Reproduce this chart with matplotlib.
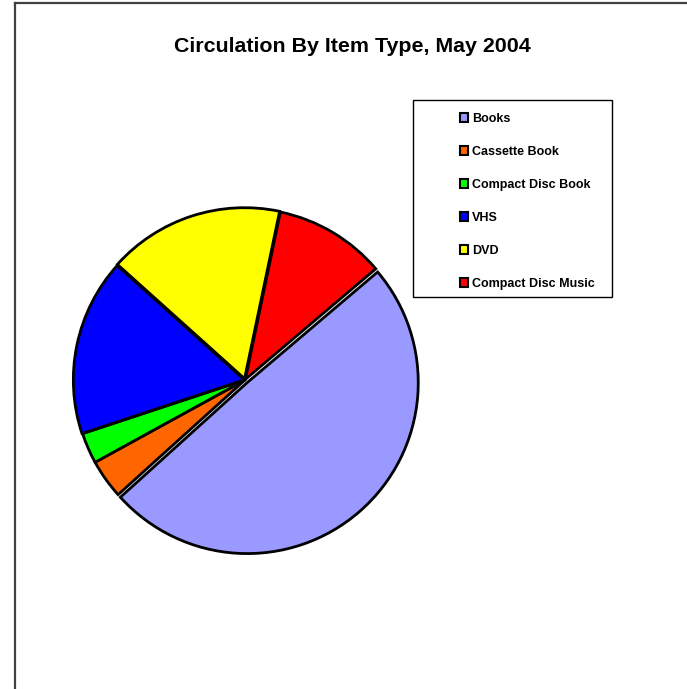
import matplotlib
matplotlib.use("Agg")
import matplotlib.pyplot as plt
from matplotlib.patches import Rectangle
from matplotlib.lines import Line2D

categories = ["Books", "Cassette Book", "Compact Disc Book", "VHS", "DVD", "Compact Disc Music"]
values = [49.4, 3.7, 2.9, 16.7, 16.6, 10.5]
colors = ["#9999FF", "#FF6600", "#00FF00", "#0000FF", "#FFFF00", "#FF0000"]
explode = [0.02, 0.0, 0.0, 0.004, 0.008, 0.004]
title = "Circulation By Item Type, May 2004"

W, H = 687, 689
fig = plt.figure(figsize=(W / 100, H / 100), dpi=100)
fig.patch.set_facecolor("white")
plt.rcParams['font.family'] = ['Liberation Sans', 'DejaVu Sans']

# outer chart frame (left and top edges visible)
fig.add_artist(Line2D([15 / W, 15 / W], [0, 1 - 3 / H], transform=fig.transFigure,
                      color="#404040", lw=1.6))
fig.add_artist(Line2D([15 / W, 1], [1 - 3 / H, 1 - 3 / H], transform=fig.transFigure,
                      color="#404040", lw=1.6))

# pie
cx, cy, r = 245, 380, 171
half = 200
ax = fig.add_axes([(cx - half) / W, (H - cy - half) / H, 2 * half / W, 2 * half / H])
wedges, _ = ax.pie(values, colors=colors, explode=explode, startangle=40.3,
                   counterclock=False, radius=1.0,
                   wedgeprops=dict(edgecolor="black", linewidth=2.0))
lim = half / r
ax.set_xlim(-lim, lim)
ax.set_ylim(-lim, lim)
ax.set_aspect("equal")
ax.axis("off")

fig.text(352 / W, 1 - 46 / H, title, ha="center", va="center",
         fontsize=15.4, fontweight="bold")

# legend frame
lx0, ly0, lx1, ly1 = 413, 100, 612, 297
fig.add_artist(Rectangle((lx0 / W, 1 - ly1 / H), (lx1 - lx0) / W, (ly1 - ly0) / H,
                         transform=fig.transFigure, facecolor="white",
                         edgecolor="black", lw=1.0, zorder=1))

handles = [Rectangle((0, 0), 1, 1, facecolor=c, edgecolor="black", lw=1.5) for c in colors]
leg = fig.legend(handles, categories, loc="upper left",
                 bbox_to_anchor=(460 / W, 1 - 113 / H), frameon=False,
                 prop=dict(size=9, weight="bold"), handlelength=0.65,
                 handleheight=0.65, handletextpad=0.3, labelspacing=1.68,
                 borderpad=0.0, borderaxespad=0.0)
leg.set_zorder(5)

fig.savefig("out.png", dpi=100, facecolor="white")
